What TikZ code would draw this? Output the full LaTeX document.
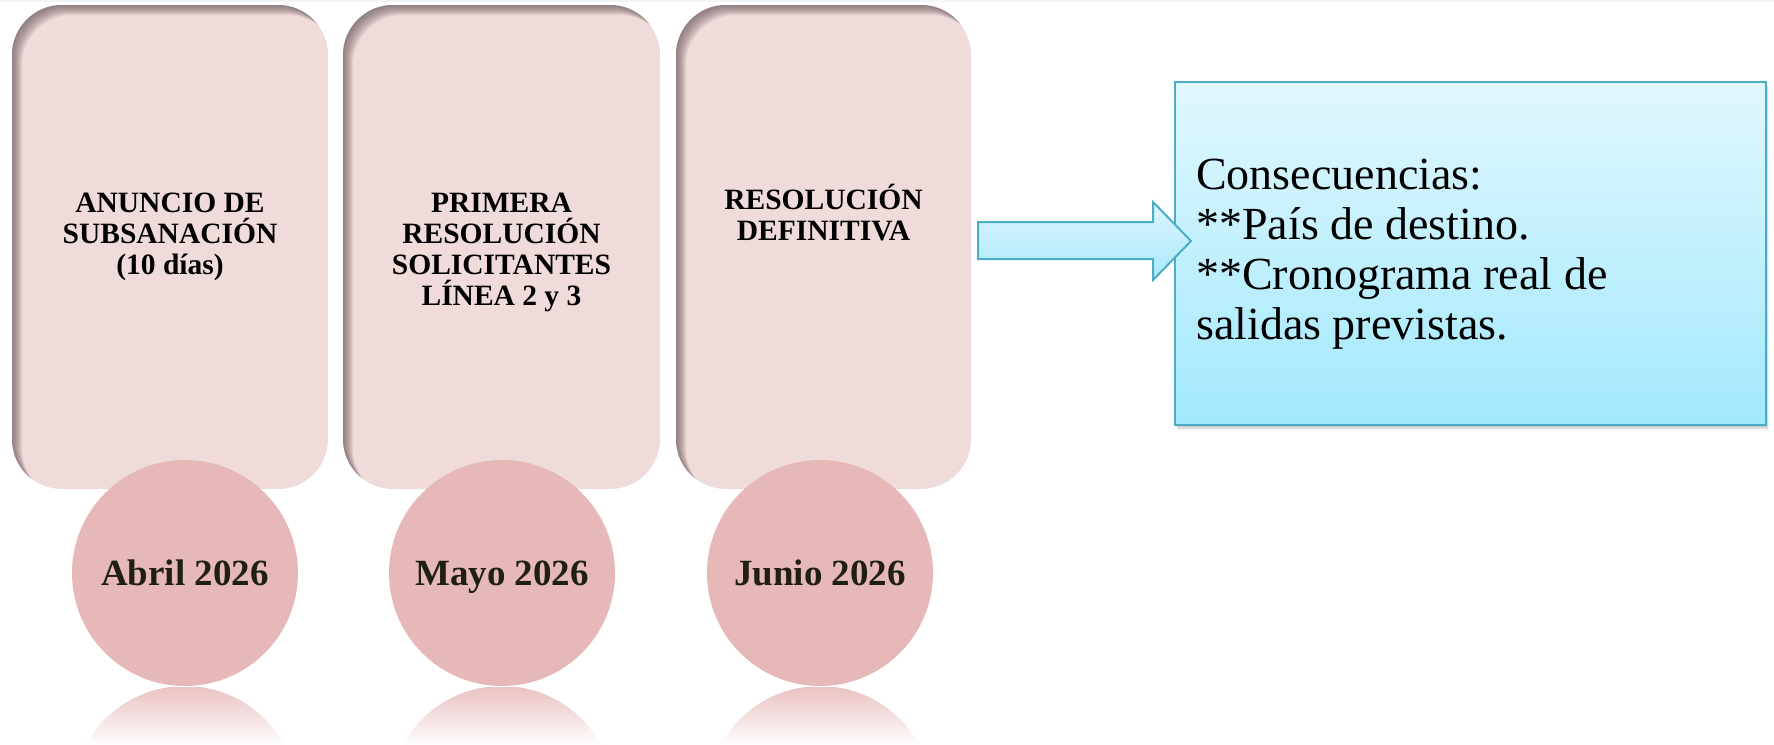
\documentclass[tikz,border=0pt]{standalone}
\usepackage{fontspec}
\setmainfont{Liberation Serif}
\definecolor{pinkfill}{HTML}{F0DBDB}
\definecolor{pinkshadow}{HTML}{5E4E50}
\definecolor{circfill}{HTML}{E6B8B7}
\definecolor{datetext}{HTML}{1F1F14}
\definecolor{bluetop}{HTML}{E1F7FD}
\definecolor{bluebot}{HTML}{A2E9FD}
\definecolor{arrowtop}{HTML}{DDF6FC}
\definecolor{arrowbot}{HTML}{A8E7FB}
\definecolor{blueline}{HTML}{4BACC6}
\begin{document}
\begin{tikzpicture}[x=1pt,y=-1pt,
  pinkbox/.style={rectangle, rounded corners=50pt, fill=pinkfill, draw=none,
    minimum height=484pt, inner sep=0pt, outer sep=0pt,
    path picture={\foreach \k in {1,...,10}{%
      \fill[pinkshadow, fill opacity=0.09, even odd rule, sharp corners]
        ([shift={(-100pt,100pt)}]path picture bounding box.north west) rectangle
        ([shift={(100pt,-100pt)}]path picture bounding box.south east)
        [rounded corners=50pt]
        ([shift={(\k pt,-\k pt)}]path picture bounding box.north west) rectangle
        ([shift={(\k pt,-\k pt)}]path picture bounding box.south east);}}},
  boxtext/.style={align=center, font=\fontsize{29.5}{31}\selectfont\bfseries,
    inner sep=0pt, anchor=north, text=black},
  datecirc/.style={circle, fill=circfill, minimum size=226pt, inner sep=0pt,
    font=\fontsize{37}{40}\selectfont\bfseries, text=datetext,
    text height=24.5pt, text depth=0pt},
  consbox/.style={rectangle, draw=blueline, line width=2pt, top color=bluetop,
    bottom color=bluebot, minimum width=591pt, minimum height=343pt, inner sep=0pt},
  constext/.style={anchor=north west, inner sep=0pt, align=left,
    font=\fontsize{46}{50}\selectfont, text=black}
]
\useasboundingbox (0,0) rectangle (1774,744);
\fill[white] (0,0) rectangle (1774,744);
\fill[black!4] (0,0) rectangle (1774,2);

% pink boxes
\node[pinkbox, minimum width=316pt] (b1) at (170,247) {};
\node[pinkbox, minimum width=317pt] (b2) at (501.5,247) {};
\node[pinkbox, minimum width=295pt] (b3) at (823.5,247) {};

\node[boxtext] (t1) at (170,184) {\rule{0pt}{28pt}ANUNCIO DE\\SUBSANACIÓN\\(10 días)};
\node[boxtext] (t2) at (501.5,184) {\rule{0pt}{28pt}PRIMERA\\RESOLUCIÓN\\SOLICITANTES\\LÍNEA 2 y 3};
\node[boxtext] (t3) at (823.5,181) {\rule{0pt}{28pt}RESOLUCIÓN\\DEFINITIVA};

% reflections
\foreach \cx in {185,502,820}{
  \begin{scope}
    \clip (\cx,799) circle[radius=113pt];
    \shade[top color=circfill!85!white, bottom color=white] (\cx-113,687) rectangle (\cx+113,746);
  \end{scope}
}

% date circles
\node[datecirc] (d1) at (185,573) {Abril 2026};
\node[datecirc] (d2) at (502,573) {Mayo 2026};
\node[datecirc] (d3) at (820,573) {Junio 2026};

% consequences box with soft shadow
\foreach \s in {1,...,5}{
  \fill[black, fill opacity=0.05] (1175+\s*0.6,82+\s) rectangle (1766+\s*0.6,425+\s);
}
\node[consbox] (cons) at (1470.5,253.5) {};
\node[constext] (ctext) at (1196,149) {\rule{0pt}{40pt}Consecuencias:\\**País de destino.\\**Cronograma real de\\salidas previstas.};

% block arrow
\draw[blueline, line width=2pt, line join=miter, top color=arrowtop, bottom color=arrowbot]
  (978,222) -- (1153,222) -- (1153,202) -- (1191,241) -- (1153,280) -- (1153,259) -- (978,259) -- cycle;
\end{tikzpicture}
\end{document}
